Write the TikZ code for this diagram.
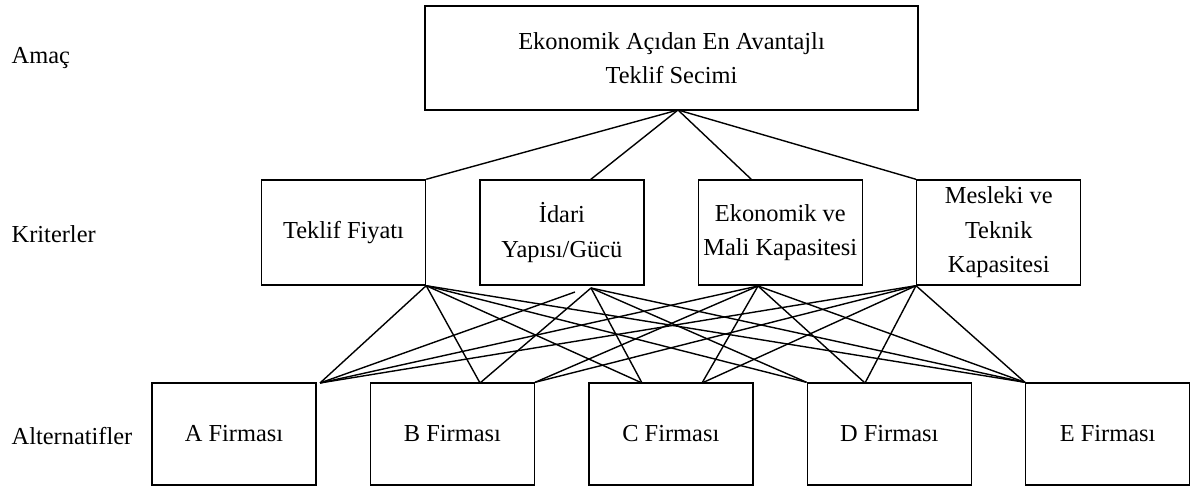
\documentclass[tikz,border=0pt]{standalone}
\usepackage{fontspec}
\setmainfont{Liberation Serif}
\usetikzlibrary{positioning}

\begin{document}
\begin{tikzpicture}[x=0.5pt,y=-0.5pt,line width=0.7pt,node distance=26.5pt,
    main node/.style={rectangle,draw,inner sep=0pt,align=center,minimum width=82pt,font=\fontsize{12.2}{17.3}\selectfont},
    level node/.style={anchor=west,inner sep=0pt,font=\fontsize{12.2}{17.3}\selectfont}]
\useasboundingbox (0,0) rectangle (1192,486);

            \node[main node, minimum width=246.5pt, minimum height=52pt] (1) at (671.5,58) {Ekonomik Açıdan En Avantajlı\\Teklif Secimi};
            \node[main node, minimum height=52.5pt] (2) at (343.5,232.5) {Teklif Fiyatı};
            \node[main node, minimum height=52.5pt] (3) [right=of 2] {İdari\\Yapısı/Gücü};
            \node[main node, minimum height=52.5pt] (4) [right=of 3] {Ekonomik ve\\Mali Kapasitesi};
            \node[main node, minimum height=52.5pt] (5) [right=of 4] {Mesleki ve\\Teknik\\Kapasitesi};
            \node[main node, minimum height=51pt] (6) at (234,434) {A Firması};
            \node[main node, minimum height=51pt] (7) [right=of 6] {B Firması};
            \node[main node, minimum height=51pt] (8) [right=of 7] {C Firması};
            \node[main node, minimum height=51pt] (9) [right=of 8] {D Firması};
            \node[main node, minimum height=51pt] (10) [right=of 9] {E Firması};

            \node[level node] (11) at (11,58) {Amaç};
            \node[level node] (12) at (11,234) {Kriterler};
            \node[level node] (13) at (11,436) {Alternatifler};

            % where the lines meet the boxes
            \coordinate (1s) at (678,110);
            \coordinate (3n) at (590,180);
            \coordinate (4n) at (752,180);
            \coordinate (3s) at (591,288);
            \coordinate (3x) at (575,292);
            \coordinate (4s) at (758,286);
            \coordinate (6n) at (320,383);
            \coordinate (7a) at (480,383);
            \coordinate (8a) at (642,383);
            \coordinate (8b) at (702,383);
            \coordinate (9b) at (865,383);

            \path
                (1s) edge (2.north east)
                (1s) edge (3n)
                (1s) edge (4n)
                (1s) edge (5.north west)
                (2.south east) edge (6n)
                (2.south east) edge (7a)
                (2.south east) edge (8a)
                (2.south east) edge (9.north west)
                (2.south east) edge (10.north west)
                (3x) edge (6n)
                (3s) edge (7a)
                (3s) edge (8a)
                (3s) edge (9.north west)
                (3s) edge (10.north west)
                (4s) edge (6n)
                (4s) edge (7.north east)
                (4s) edge (8b)
                (4s) edge (9b)
                (4s) edge (10.north west)
                (5.south west) edge (6n)
                (5.south west) edge (7.north east)
                (5.south west) edge (8b)
                (5.south west) edge (9b)
                (5.south west) edge (10.north west)
            ;
        \end{tikzpicture}
\end{document}
